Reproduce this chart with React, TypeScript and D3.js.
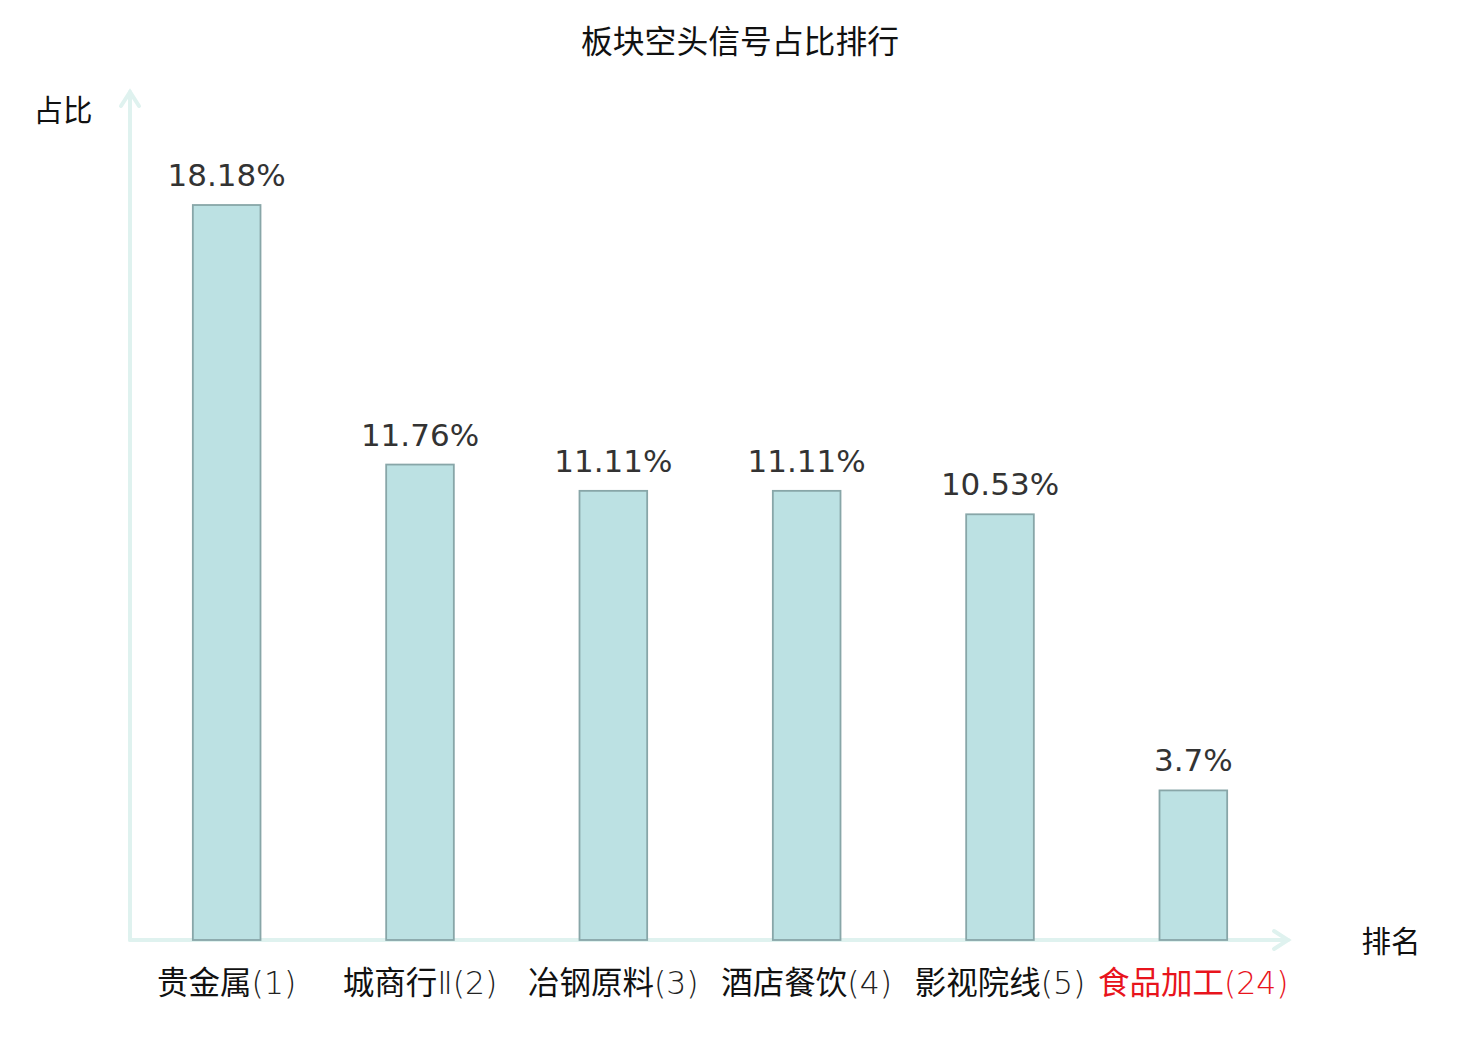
import React from 'react';
import * as d3 from 'd3';

const sectors = ['贵金属', '城商行', '冶钢原料', '酒店餐饮', '影视院线', '食品加工'];
const suffixes = ['', 'Ⅱ', '', '', '', ''];
const ranks = [1, 2, 3, 4, 5, 24];
const shares = [18.18, 11.76, 11.11, 11.11, 10.53, 3.7];
const highlight = [false, false, false, false, false, true];

const W = 1480;
const H = 1040;
const cjk = '"Noto Sans CJK SC", "Noto Sans", sans-serif';
const latin = '"DejaVu Sans", sans-serif';
const axisColor = '#dff2ef';

export default function App() {
  const x0 = 130;
  const x1 = 1290;
  const yBase = 940;

  const x = d3.scaleBand<number>()
    .domain(d3.range(sectors.length))
    .range([x0, x1])
    .paddingInner(0.65)
    .paddingOuter(0.325);

  const y = d3.scaleLinear().domain([0, 21]).range([yBase, 91]);

  return (
    <svg width={W} height={H}
      style={{ display: 'block', position: 'absolute', left: 0, top: 0, background: '#fff' }}>
      <text x={740} y={53} textAnchor="middle" fontFamily={cjk} fontSize={31.8} fill="#111">
        板块空头信号占比排行
      </text>

      {/* axes */}
      <g stroke={axisColor} strokeWidth={4} fill="none" strokeLinecap="round">
        <line x1={x0} y1={yBase} x2={x0} y2={92} />
        <polyline points={`${x0 - 9},106 ${x0},92 ${x0 + 9},106`} />
        <line x1={x0} y1={yBase} x2={1288} y2={yBase} />
        <polyline points={`1274,${yBase - 9} 1288,${yBase} 1274,${yBase + 9}`} />
      </g>
      <text x={63} y={121} textAnchor="middle" fontFamily={cjk} fontSize={29.5} fill="#111">占比</text>
      <text x={1391} y={952} textAnchor="middle" fontFamily={cjk} fontSize={29.5} fill="#111">排名</text>

      {shares.map((v, i) => {
        const bx = x(i) as number;
        const cx = bx + x.bandwidth() / 2;
        const red = highlight[i];
        return (
          <g key={i}>
            <rect x={bx} y={y(v)} width={x.bandwidth()} height={yBase - y(v)}
              fill="#bce1e3" stroke="#88a6a8" strokeWidth={1.8} />
            <text x={cx} y={y(v) - 19} textAnchor="middle" fontFamily={latin} fontSize={31} fill="#333">
              {`${v}%`}
            </text>
            <text x={cx} y={994} textAnchor="middle" fontFamily={cjk} fontSize={31.5}
              fill={red ? '#e8141c' : '#111'}>
              {sectors[i]}
              <tspan fontFamily={latin} fontWeight={200} fill={red ? '#e8141c' : '#222'}>
                {`${suffixes[i]}(${ranks[i]})`}
              </tspan>
            </text>
          </g>
        );
      })}
    </svg>
  );
}
